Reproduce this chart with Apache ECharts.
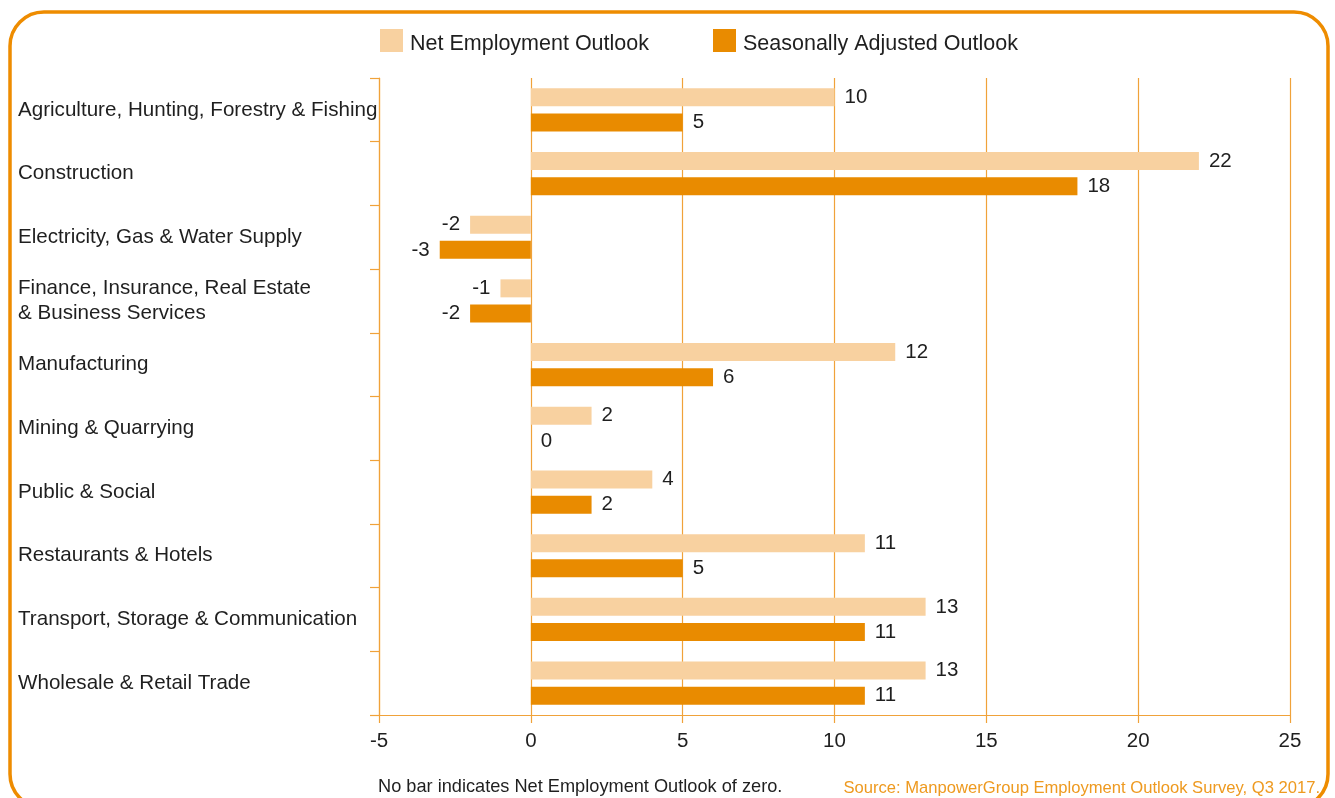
<!DOCTYPE html>
<html>
<head>
<meta charset="utf-8">
<script src="https://cdn.jsdelivr.net/npm/echarts@6/dist/echarts.min.js"></script>
<style>
html,body{margin:0;padding:0;background:#fff;}
#chart{width:1335px;height:798px;}
</style>
</head>
<body>
<div id="chart"></div>
<script>
const categories = [
  "Agriculture, Hunting, Forestry & Fishing",
  "Construction",
  "Electricity, Gas & Water Supply",
  "Finance, Insurance, Real Estate\n& Business Services",
  "Manufacturing",
  "Mining & Quarrying",
  "Public & Social",
  "Restaurants & Hotels",
  "Transport, Storage & Communication",
  "Wholesale & Retail Trade"
];
const netOutlook = [10, 22, -2, -1, 12, 2, 4, 11, 13, 13];
const adjustedOutlook = [5, 18, -3, -2, 6, 0, 2, 5, 11, 11];
const xTicks = [-5, 0, 5, 10, 15, 20, 25];

const LIGHT = '#f8d1a0';
const DARK = '#e98b00';
const LINE = '#f0a23a';
const FONT = '"Liberation Sans", Arial, Helvetica, sans-serif';
const TXT = '#1f1f1f';

function toItems(arr) {
  return arr.map(v => ({
    value: v,
    label: { position: v < 0 ? 'left' : 'right' }
  }));
}

const chart = echarts.init(document.getElementById('chart'));
chart.setOption({
  animation: false,
  textStyle: { fontFamily: FONT },
  legend: {
    left: 380,
    top: 29,
    padding: 0,
    itemWidth: 23,
    itemHeight: 23,
    itemGap: 64,
    icon: 'rect',
    formatter: '{t|{name}}',
    textStyle: {
      fontSize: 21.5, color: TXT, fontFamily: FONT,
      rich: { t: { fontSize: 21.5, color: TXT, fontFamily: FONT, padding: [7, 0, 0, 2] } }
    },
    data: ['Net Employment Outlook', 'Seasonally Adjusted Outlook']
  },
  grid: { left: 379, right: 45, top: 78, bottom: 83, containLabel: false },
  xAxis: {
    type: 'value',
    min: xTicks[0],
    max: xTicks[xTicks.length - 1],
    interval: 5,
    axisLine: { show: true, lineStyle: { color: LINE, width: 1.2 } },
    axisTick: { show: true, length: 8, lineStyle: { color: LINE, width: 1.2 } },
    splitLine: { show: true, lineStyle: { color: LINE, width: 1.2 } },
    axisLabel: { fontSize: 20.5, color: TXT, margin: 16, fontFamily: FONT }
  },
  yAxis: {
    type: 'category',
    inverse: true,
    data: categories,
    axisLine: { show: true, onZero: false, lineStyle: { color: LINE, width: 1.2 } },
    axisTick: { show: true, length: 9, lineStyle: { color: LINE, width: 1.2 } },
    splitLine: { show: false },
    axisLabel: {
      align: 'left',
      margin: 361,
      fontSize: 20.6,
      lineHeight: 25,
      color: TXT,
      fontFamily: FONT
    }
  },
  series: [
    {
      name: 'Net Employment Outlook',
      type: 'bar',
      data: toItems(netOutlook),
      barWidth: 18,
      barGap: '40%',
      itemStyle: { color: LIGHT },
      label: { show: true, distance: 10, fontSize: 20.5, color: TXT, fontFamily: FONT }
    },
    {
      name: 'Seasonally Adjusted Outlook',
      type: 'bar',
      data: toItems(adjustedOutlook),
      barWidth: 18,
      barGap: '40%',
      itemStyle: { color: DARK },
      label: { show: true, distance: 10, fontSize: 20.5, color: TXT, fontFamily: FONT }
    }
  ],
  graphic: [
    {
      type: 'rect',
      shape: { x: 10, y: 12, width: 1318, height: 796, r: 34 },
      style: { fill: 'none', stroke: '#ee8c00', lineWidth: 3.5 },
      silent: true
    },
    {
      type: 'text',
      left: 378,
      top: 778,
      style: { text: 'No bar indicates Net Employment Outlook of zero.', fontSize: 18.2, fill: TXT, fontFamily: FONT }
    },
    {
      type: 'text',
      right: 15,
      top: 780,
      style: { text: 'Source: ManpowerGroup Employment Outlook Survey, Q3 2017.', fontSize: 16.6, fill: '#ee9a20', fontFamily: FONT }
    }
  ]
});
</script>
</body>
</html>
